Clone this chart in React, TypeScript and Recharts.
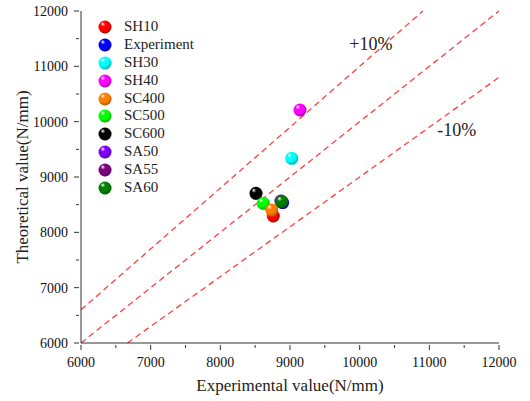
import React from "react";
import {
  ScatterChart,
  Scatter,
  XAxis,
  YAxis,
  ReferenceLine,
  ReferenceDot,
  Legend,
  Label,
} from "recharts";

const FONT = "'Liberation Serif', 'Times New Roman', serif";

// legend order
const seriesNames = ["SH10", "Experiment", "SH30", "SH40", "SC400", "SC500", "SC600", "SA50", "SA55", "SA60"];
const seriesColors = ["#ff0000", "#0000ff", "#00ffff", "#ff00ff", "#ff8000", "#00ff00", "#000000", "#8000ff", "#800080", "#008000"];
const experimental = [8760, 8894, 9024, 9143, 8737, 8617, 8512, 8870, 8875, 8881];
const theoretical = [8295, 8538, 9338, 10211, 8403, 8525, 8705, 8566, 8562, 8553];
// which one sits on top of which (last = on top)
const drawOrder = [1, 7, 8, 9, 6, 5, 0, 4, 2, 3];

const axisTicks = [6000, 6500, 7000, 7500, 8000, 8500, 9000, 9500, 10000, 10500, 11000, 11500, 12000];
const ratioLines = [1, 1.1, 0.9];
const annotationText = ["+10%", "-10%"];
const annotationX = [10160, 11395];
const annotationY = [11410, 9850];

const Sphere = ({ cx, cy, color, id, r = 6.5 }: any) => {
  const g1 = `sph-${id}`;
  const g2 = `shd-${id}`;
  return (
    <g>
      <defs>
        <radialGradient id={g1} cx="40%" cy="35%" r="65%" fx="32%" fy="26%">
          <stop offset="0%" stopColor="#ffffff" />
          <stop offset="28%" stopColor={color} />
          <stop offset="100%" stopColor={color} />
        </radialGradient>
        <radialGradient id={g2} cx="40%" cy="35%" r="70%">
          <stop offset="55%" stopColor="#000" stopOpacity={0} />
          <stop offset="100%" stopColor="#000" stopOpacity={0.35} />
        </radialGradient>
      </defs>
      <circle cx={cx} cy={cy} r={r} fill={`url(#${g1})`} />
      <circle cx={cx} cy={cy} r={r} fill={`url(#${g2})`} />
    </g>
  );
};

const tickText = { fontFamily: FONT, fontSize: 14, fill: "#111" };

const FrameTick = (props: any) => {
  const { x, y, payload, side } = props;
  const v = payload.value as number;
  const major = v % 1000 === 0;
  const len = major ? 5 : 3;
  const ln = { stroke: "#333", strokeWidth: 1 };
  if (side === "bottom") {
    return (
      <g>
        <line x1={x} y1={y} x2={x} y2={y + len} {...ln} />
        {major && (
          <text x={x} y={y + 22} textAnchor="middle" style={tickText}>
            {v}
          </text>
        )}
      </g>
    );
  }
  if (side === "left") {
    return (
      <g>
        <line x1={x - len} y1={y} x2={x} y2={y} {...ln} />
        {major && (
          <text x={x - 11} y={y + 5} textAnchor="end" style={tickText}>
            {v}
          </text>
        )}
      </g>
    );
  }
  if (side === "top") return <line x1={x} y1={y} x2={x} y2={y + len} {...ln} />;
  return <line x1={x - len} y1={y} x2={x} y2={y} {...ln} />;
};

const LegendBox = () => (
  <div style={{ fontFamily: FONT, fontSize: 15, color: "#222" }}>
    {seriesNames.map((name, i) => (
      <div key={name} style={{ display: "flex", alignItems: "center", height: 17.9 }}>
        <svg width={14} height={14} style={{ display: "block" }}>
          <Sphere cx={7} cy={7} color={seriesColors[i]} id={`leg${i}`} />
        </svg>
        <span style={{ marginLeft: 12, lineHeight: "17.9px", whiteSpace: "nowrap" }}>{name}</span>
      </div>
    ))}
  </div>
);

export default function App() {
  const frameAxis = {
    type: "number" as const,
    domain: [6000, 12000],
    ticks: axisTicks,
    interval: 0 as const,
    tickSize: 0,
    tickLine: false,
    allowDataOverflow: true,
    axisLine: { stroke: "#333", strokeWidth: 1 },
  };

  return (
    <div style={{ position: "absolute", left: 0, top: 0, width: 530, height: 401, background: "#fff" }}>
      <ScatterChart width={530} height={401} margin={{ top: 11, right: 31, bottom: 0, left: 0 }}>
        <XAxis {...frameAxis} dataKey="x" height={58} tick={(p: any) => <FrameTick {...p} side="bottom" />}>
          <Label
            value="Experimental value(N/mm)"
            position="insideBottom"
            offset={10}
            style={{ fontFamily: FONT, fontSize: 17, fill: "#222" }}
          />
        </XAxis>
        <XAxis {...frameAxis} xAxisId="top" orientation="top" height={0} tick={(p: any) => <FrameTick {...p} side="top" />} />
        <YAxis {...frameAxis} dataKey="y" width={81} tick={(p: any) => <FrameTick {...p} side="left" />}>
          <Label
            content={({ viewBox }: any) => {
              const cx = viewBox.x + 22;
              const cy = viewBox.y + viewBox.height / 2;
              return (
                <text
                  x={cx}
                  y={cy}
                  transform={`rotate(-90 ${cx} ${cy})`}
                  textAnchor="middle"
                  dominantBaseline="central"
                  style={{ fontFamily: FONT, fontSize: 17, fill: "#222" }}
                >
                  Theoretical value(N/mm)
                </text>
              );
            }}
          />
        </YAxis>
        <YAxis {...frameAxis} yAxisId="right" orientation="right" width={0} tick={(p: any) => <FrameTick {...p} side="right" />} />

        {ratioLines.map((r) => {
          const x0 = Math.max(6000, 6000 / r);
          const x1 = Math.min(12000, 12000 / r);
          return (
            <ReferenceLine
              key={r}
              segment={[
                { x: x0, y: r * x0 },
                { x: x1, y: r * x1 },
              ]}
              ifOverflow="visible"
              stroke="#ff4040"
              strokeWidth={1.3}
              strokeDasharray="6 4"
            />
          );
        })}

        {annotationText.map((t, i) => (
          <ReferenceDot
            key={t}
            x={annotationX[i]}
            y={annotationY[i]}
            r={0}
            fill="none"
            stroke="none"
            ifOverflow="visible"
            label={{ value: t, position: "center", style: { fontFamily: FONT, fontSize: 18, fill: "#222" } }}
          />
        ))}

        {drawOrder.map((i) => (
          <Scatter
            key={seriesNames[i]}
            name={seriesNames[i]}
            data={[{ x: experimental[i], y: theoretical[i] }]}
            fill={seriesColors[i]}
            isAnimationActive={false}
            shape={(p: any) => <Sphere cx={p.cx} cy={p.cy} color={seriesColors[i]} id={`pt${i}`} />}
          />
        ))}

        <Legend
          layout="vertical"
          align="center"
          verticalAlign="middle"
          content={() => <LegendBox />}
          wrapperStyle={{ position: "absolute", left: 98, top: 18, width: "auto", height: "auto" }}
        />
      </ScatterChart>
    </div>
  );
}
